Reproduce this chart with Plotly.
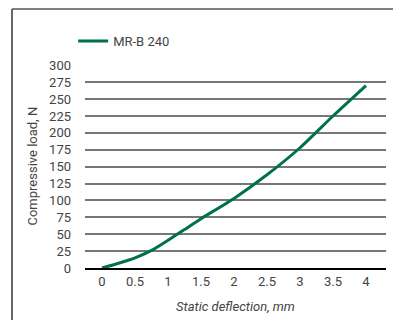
import plotly.graph_objects as go

deflection = [0, 0.25, 0.5, 0.75, 1.0, 1.25, 1.5, 2.0, 2.5, 3.0, 3.5, 4.0]
load = [0, 7, 15, 26, 41, 57, 73, 103, 138, 178, 225, 270]
series_name = "MR-B 240"
y_ticks = [0, 25, 50, 75, 100, 125, 150, 175, 200, 225, 250, 275, 300]
x_ticks = [0, 0.5, 1, 1.5, 2, 2.5, 3, 3.5, 4]
y_title = "Compressive load, N"
x_title = "Static deflection, mm"

FONT = "Roboto, Arial, sans-serif"
GREEN = "#00704f"
TXT = "#444"

fig = go.Figure()
fig.add_trace(go.Scatter(
    x=deflection, y=load, mode="lines", name=series_name,
    line=dict(color=GREEN, width=3, shape="spline", smoothing=0.6),
))

fig.update_layout(
    width=401, height=320,
    margin=dict(l=77, r=23, t=57, b=60, autoexpand=False),
    paper_bgcolor="white", plot_bgcolor="white",
    font=dict(family=FONT, size=13, color=TXT),
    showlegend=True,
    legend=dict(xref="container", yref="container",
                x=0.1625, y=0.897, xanchor="left", yanchor="middle",
                bgcolor="rgba(0,0,0,0)", font=dict(size=13, color=TXT),
                borderwidth=0),
    xaxis=dict(range=[-0.258, 4.303], tickvals=x_ticks,
               ticktext=[f"{v:g}" for v in x_ticks],
               showgrid=False, zeroline=False, automargin=True,
               showline=True, linecolor="black", linewidth=2,
               ticks="", ticklen=0,
               title=dict(text=x_title,
                          font=dict(size=13, color=TXT, style="italic"),
                          standoff=14)),
    yaxis=dict(range=[0, 300.5], tickvals=y_ticks, automargin=True,
               showgrid=True, gridcolor="#777", gridwidth=2,
               zeroline=False, showline=False, ticks="",
               ticklabelstandoff=13),
    annotations=[
        dict(text=y_title, xref="paper", yref="paper",
             x=-0.176, y=0.5, xanchor="center", yanchor="middle",
             textangle=-90, showarrow=False,
             font=dict(size=13, color=TXT)),
    ],
    shapes=[
        dict(type="line", xref="paper", yref="paper",
             x0=-0.2425, x1=-0.2425, y0=1.2759, y1=-0.35,
             line=dict(color="#333", width=1.5)),
        dict(type="line", xref="paper", yref="paper",
             x0=-0.2425, x1=1.1, y0=1.2759, y1=1.2759,
             line=dict(color="#555", width=1.5)),
    ],
)

fig.write_html("out.html")
